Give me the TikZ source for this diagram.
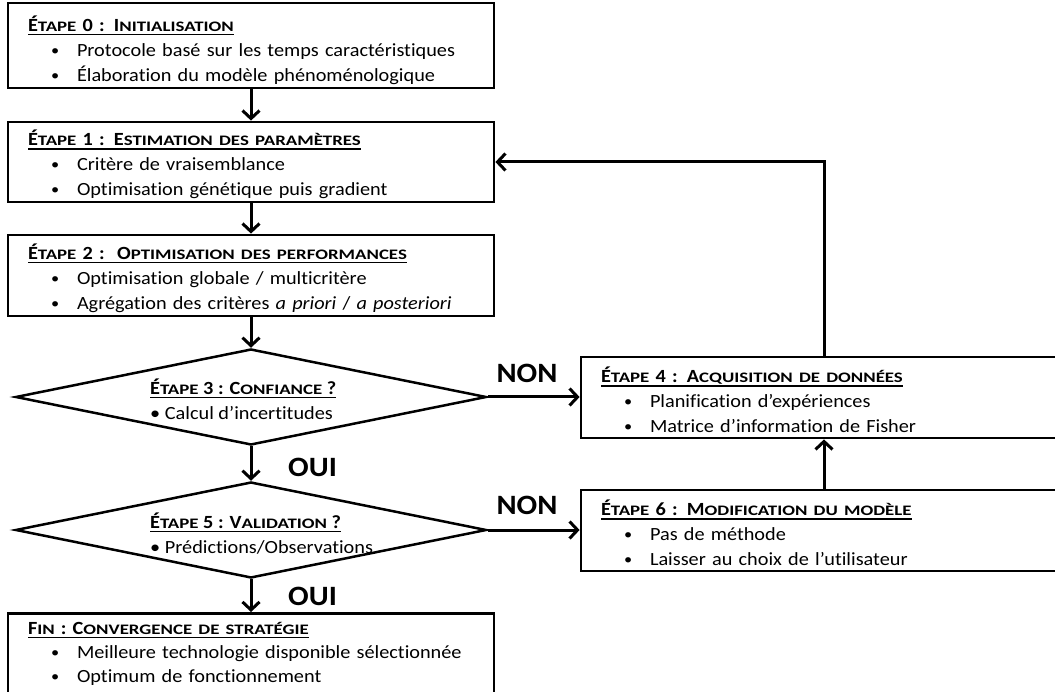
\documentclass[tikz,border=0pt]{standalone}
\usepackage{fontspec}
\setmainfont{Carlito}[FakeStretch=1.09, Ligatures=CommonOff]
\newfontfamily\capsfont{Carlito}[FakeStretch=1.3, Ligatures=CommonOff]
\usetikzlibrary{shapes.geometric,arrows.meta}

\newcommand\corps{\fontsize{18.6}{25}\selectfont}
\newcommand\gros{\fontsize{28}{30}\selectfont\bfseries}
\newcommand\petit[1]{{\capsfont\fontsize{14.5}{25}\selectfont #1}}
\newcommand\trait[1]{\setbox0\hbox{#1}\rlap{\rule[-4pt]{\wd0}{1.6pt}}\box0}
\newcommand\titre[1]{\trait{\bfseries #1}}
\newcommand\puce{\hspace*{23pt}\makebox[26pt][l]{\raisebox{1pt}{\fontsize{15}{15}\selectfont\textbullet}}}

\begin{document}
\begin{tikzpicture}[x=1pt, y=-1pt,
        etape/.style={draw, line width=2.8pt, text width=446pt, inner xsep=20pt, inner ysep=0pt, align=left, minimum height=81pt, font=\corps, execute at begin node={\rule{0pt}{21pt}}},
        choix/.style={draw, diamond, line width=2.5pt, minimum width=471pt, minimum height=96pt, inner sep=0pt},
        texte/.style={anchor=west, align=left, font=\corps, inner sep=0pt},
        reponse/.style={font=\gros, inner sep=0pt},
        fleche/.style={line width=3pt, -{Straight Barb[length=8pt, width=17pt]}}]
                        \useasboundingbox (0,0) rectangle (1055,692);
                        \clip (0,0) rectangle (1055,692);
                        \node[etape, minimum height=85pt, execute at begin node={\rule{0pt}{25pt}}] (e0) at (251,45.5) {\titre{É\petit{TAPE} 0 : I\petit{NITIALISATION}}\\
                            \puce Protocole basé sur les temps caractéristiques\\
                            \puce Élaboration du modèle phénoménologique};
                        \node[etape, minimum height=80pt] (e1) at (251,162) {\titre{É\petit{TAPE} 1 : E\petit{STIMATION DES PARAMÈTRES}}\\
                            \puce Critère de vraisemblance\\
                            \puce Optimisation génétique puis gradient};
                        \node[etape] (e2) at (251,275.5) {\titre{É\petit{TAPE} 2 :\ \ O\petit{PTIMISATION DES PERFORMANCES}}\\
                            \puce Optimisation globale / multicritère\\
                            \puce Agrégation des critères \textit{a priori} / \textit{a posteriori}};
                        \node[choix] (d3) at (251,397) {};
                        \node[texte] (t3) at (150,399) {\titre{É\petit{TAPE} 3 : C\petit{ONFIANCE} ?}\\
                            \textbullet\ Calcul d’incertitudes};
                        \node[choix] (d5) at (251,530) {};
                        \node[texte] (t5) at (150,533.5) {\titre{É\petit{TAPE} 5 : V\petit{ALIDATION} ?}\\
                            \textbullet\ Prédictions/Observations};
                        \node[etape, anchor=north, font=\fontsize{18.6}{24}\selectfont, execute at begin node={\rule{0pt}{18pt}}, execute at end node={\rule[-30pt]{0pt}{1pt}}] (fin) at (251,612) {\titre{F\petit{IN} : C\petit{ONVERGENCE DE STRATÉGIE}}\\
                            \puce Meilleure technologie disponible sélectionnée\\
                            \puce Optimum de fonctionnement};
                        \node[etape] (e4) at (824,397.5) {\titre{É\petit{TAPE} 4 : A\petit{CQUISITION DE DONNÉES}}\\
                            \puce Planification d’expériences\\
                            \puce Matrice d’information de Fisher};
                        \node[etape] (e6) at (824,530.5) {\titre{É\petit{TAPE} 6 : M\petit{ODIFICATION DU MODÈLE}}\\
                            \puce Pas de méthode\\
                            \puce Laisser au choix de l’utilisateur};
                        \node[reponse] (non3) at (527,373) {NON};
                        \node[reponse] (non5) at (527,505) {NON};
                        \node[reponse, anchor=west] (oui3) at (288,467) {OUI};
                        \node[reponse, anchor=west] (oui5) at (288,596) {OUI};
                        \draw[fleche] (e0) -- (e1);
                        \draw[fleche] (e1) -- (e2);
                        \draw[fleche] (e2) -- (d3);
                        \draw[fleche] (d3) -- (d5);
                        \draw[fleche] (d5) -- (fin);
                        \draw[fleche] (d3.east) -- (d3.east -| e4.west);
                        \draw[fleche] (d5.east) -- (d5.east -| e6.west);
                        \draw[fleche] (e6) -- (e4);
                        \draw[fleche] (e4.north) |- (e1.east);
                    \end{tikzpicture}
\end{document}
